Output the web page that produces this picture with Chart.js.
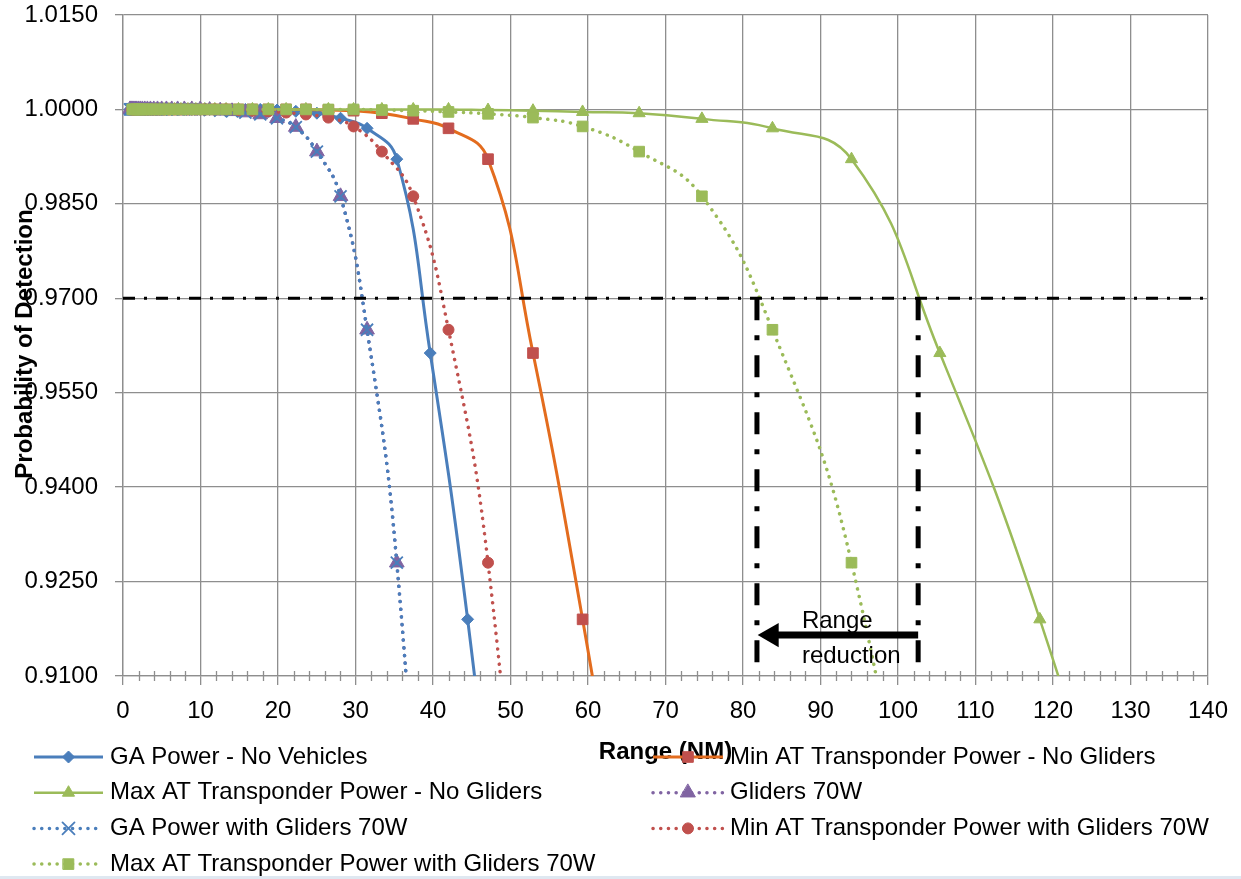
<!DOCTYPE html>
<html>
<head>
<meta charset="utf-8">
<title>Probability of Detection vs Range</title>
<script src="https://cdn.jsdelivr.net/npm/chart.js@4.4.0/dist/chart.umd.min.js"></script>
<style>
    html, body { margin: 0; padding: 0; background: #dfe8f1; }
    #wrap { width: 1241px; height: 876px; background: #fff; }
</style>
</head>
<body>
<div id="wrap"><canvas id="myChart" width="1241" height="876"></canvas></div>
<script>
// range grids in NM (1 dB steps), ascending
var rangeGA = [0.89, 1.00, 1.12, 1.26, 1.41, 1.58, 1.77, 1.99, 2.23, 2.50,
    2.81, 3.15, 3.54, 3.97, 4.45, 4.99, 5.60, 6.29, 7.05, 7.91,
    8.88, 9.96, 11.18, 12.54, 14.07, 15.79, 17.71, 19.87, 22.30, 25.02,
    28.07, 31.49, 35.33, 39.64, 44.47, 49.90];
var rangeAT = [1.19, 1.33, 1.49, 1.68, 1.88, 2.11, 2.36, 2.65, 2.97, 3.33,
    3.74, 4.20, 4.71, 5.29, 5.93, 6.66, 7.47, 8.38, 9.40, 10.55,
    11.85, 13.30, 14.90, 16.70, 18.75, 21.05, 23.60, 26.50, 29.75, 33.40,
    37.45, 42.00, 47.10, 52.90, 59.30, 66.60, 74.70, 83.80, 94.00, 105.40,
    118.30, 132.70];

// probability of detection, one value per range point
var pdGA = [1.0000, 1.0000, 1.0000, 1.0000, 1.0000, 1.0000, 1.0000, 1.0000, 1.0000, 1.0000,
    1.0000, 1.0000, 1.0000, 1.0000, 1.0000, 1.0000, 1.0000, 1.0000, 1.0000, 1.0000,
    1.0000, 1.0000, 1.0000, 1.0000, 1.0000, 1.0000, 1.0000, 0.9999, 0.9997, 0.9994,
    0.9986, 0.9970, 0.9921, 0.9613, 0.9190, 0.8600];
var pdMinAT = [1.0000, 1.0000, 1.0000, 1.0000, 1.0000, 1.0000, 1.0000, 1.0000, 1.0000, 1.0000,
    1.0000, 1.0000, 1.0000, 1.0000, 1.0000, 1.0000, 1.0000, 1.0000, 1.0000, 1.0000,
    1.0000, 1.0000, 1.0000, 1.0000, 1.0000, 1.0000, 1.0000, 0.9999, 0.9998, 0.9994,
    0.9985, 0.9970, 0.9921, 0.9613, 0.9190, 0.8650];
var pdMaxAT = [1.0000, 1.0000, 1.0000, 1.0000, 1.0000, 1.0000, 1.0000, 1.0000, 1.0000, 1.0000,
    1.0000, 1.0000, 1.0000, 1.0000, 1.0000, 1.0000, 1.0000, 1.0000, 1.0000, 1.0000,
    1.0000, 1.0000, 1.0000, 1.0000, 1.0000, 1.0000, 1.0000, 1.0000, 1.0000, 1.0000,
    1.0000, 1.0000, 0.9999, 0.9998, 0.9996, 0.9994, 0.9985, 0.9970, 0.9921, 0.9613,
    0.9190, 0.8600];
var pdGliders = [1.0000, 1.0000, 1.0000, 1.0000, 1.0000, 1.0000, 1.0000, 1.0000, 1.0000, 1.0000,
    1.0000, 1.0000, 1.0000, 1.0000, 1.0000, 1.0000, 1.0000, 1.0000, 1.0000, 1.0000,
    1.0000, 1.0000, 0.9999, 0.9998, 0.9997, 0.9995, 0.9992, 0.9986, 0.9972, 0.9933,
    0.9862, 0.9650, 0.9280, 0.8500];
var pdMinATGl = [1.0000, 1.0000, 1.0000, 1.0000, 1.0000, 1.0000, 1.0000, 1.0000, 1.0000, 1.0000,
    1.0000, 1.0000, 1.0000, 1.0000, 1.0000, 1.0000, 1.0000, 1.0000, 1.0000, 1.0000,
    1.0000, 1.0000, 0.9999, 0.9998, 0.9997, 0.9995, 0.9992, 0.9987, 0.9973, 0.9933,
    0.9862, 0.9650, 0.9280, 0.8500];
var pdMaxATGl = [1.0000, 1.0000, 1.0000, 1.0000, 1.0000, 1.0000, 1.0000, 1.0000, 1.0000, 1.0000,
    1.0000, 1.0000, 1.0000, 1.0000, 1.0000, 1.0000, 1.0000, 1.0000, 1.0000, 1.0000,
    1.0000, 1.0000, 1.0000, 1.0000, 1.0000, 1.0000, 1.0000, 1.0000, 1.0000, 0.9999,
    0.9998, 0.9996, 0.9993, 0.9987, 0.9973, 0.9933, 0.9862, 0.9650, 0.9280, 0.8500];

var seriesNames = ['GA Power - No Vehicles', 'Min AT Transponder Power - No Gliders',
    'Max AT Transponder Power - No Gliders', 'Gliders 70W', 'GA Power with Gliders 70W',
    'Min AT Transponder Power with Gliders 70W', 'Max AT Transponder Power with Gliders 70W'];

var xTickValues = [0, 10, 20, 30, 40, 50, 60, 70, 80, 90, 100, 110, 120, 130, 140];
var yTickValues = [0.9100, 0.9250, 0.9400, 0.9550, 0.9700, 0.9850, 1.0000, 1.0150];

// annotation: Pd threshold and the ranges where the Max AT curves cross it
var thresholdPd = 0.97;
var crossRanges = [81.8, 102.6];
var arrowPd = 0.9165;
var arrowRange = [102.6, 83.7];
var noteLines = ['Range', 'reduction'];
var noteRange = 87.6;
var notePd = 0.9186;

var BLUE = '#4A7EBB', ORANGE = '#E36C1E', RED = '#C0504D', GREEN = '#9BBB59', PURPLE = '#8064A2';
var GRID = '#8E8E8E';
var FONT = '"Liberation Sans", Arial, sans-serif';

function pairs(xs, ys) {
    return ys.map(function (y, i) { return { x: xs[i], y: y }; });
}

function series(name, xs, ys, color, markColor, style, radius, dotted, width) {
    return {
        label: name,
        data: pairs(xs, ys),
        borderColor: color,
        borderWidth: width,
        borderDash: dotted ? [0.1, 7.6] : [],
        borderCapStyle: dotted ? 'round' : 'butt',
        tension: 0.45,
        pointStyle: style,
        pointRadius: radius,
        pointBackgroundColor: markColor,
        pointBorderColor: markColor,
        pointBorderWidth: style === 'crossRot' ? 1.8 : 1,
        fill: false
    };
}

var datasets = [
    series(seriesNames[0], rangeGA, pdGA, BLUE, BLUE, 'rectRot', 6, false, 3),
    series(seriesNames[1], rangeAT, pdMinAT, ORANGE, RED, 'rect', 7.5, false, 3),
    series(seriesNames[2], rangeAT, pdMaxAT, GREEN, GREEN, 'triangle', 7, false, 2.5),
    series(seriesNames[3], rangeGA, pdGliders, PURPLE, PURPLE, 'triangle', 8.5, true, 3.5),
    series(seriesNames[4], rangeGA, pdGliders, BLUE, BLUE, 'crossRot', 8.5, true, 3.5),
    series(seriesNames[5], rangeAT, pdMinATGl, RED, RED, 'circle', 5.5, true, 3.5),
    series(seriesNames[6], rangeAT, pdMaxATGl, GREEN, GREEN, 'rect', 7.5, true, 3.5)
];
// later series on top, like the original
datasets.forEach(function (ds, i) { ds.order = 20 - i; });

// threshold line and range reduction marks
datasets.push({
    label: 'threshold',
    data: [{ x: xTickValues[0], y: thresholdPd }, { x: xTickValues[xTickValues.length - 1], y: thresholdPd }],
    borderColor: '#000', borderWidth: 3, borderDash: [12, 9, 3, 9], pointRadius: 0, order: 2
});
crossRanges.forEach(function (r) {
    datasets.push({
        label: 'cross',
        data: [{ x: r, y: thresholdPd }, { x: r, y: yTickValues[0] }],
        borderColor: '#000', borderWidth: 5, borderDash: [22, 15, 5, 15], pointRadius: 0, order: 1
    });
});
datasets.push({
    label: 'arrow',
    data: [{ x: arrowRange[0], y: arrowPd }, { x: arrowRange[1], y: arrowPd }],
    borderColor: '#000', borderWidth: 7, backgroundColor: '#000',
    pointStyle: 'triangle', pointRotation: 270, pointRadius: [0, 14],
    pointBackgroundColor: '#000', pointBorderColor: '#000', pointBorderWidth: 0, order: 0
});

var chartExtras = {
    id: 'chartExtras',
    beforeDatasetsDraw: function (chart) {
        let ctx = chart.ctx;
        let area = chart.chartArea;
        let xs = chart.scales.x;
        ctx.save();
        ctx.strokeStyle = GRID;
        ctx.lineWidth = 1.3;
        for (let v = xs.min; v <= xs.max; v += 2) {
            if (xTickValues.indexOf(v) >= 0) continue;
            let px = Math.round(xs.getPixelForValue(v)) + 0.5;
            ctx.beginPath();
            ctx.moveTo(px, area.bottom - 5);
            ctx.lineTo(px, area.bottom + 5);
            ctx.stroke();
        }
        ctx.restore();
    },
    afterDraw: function (chart) {
        let ctx = chart.ctx;
        let xs = chart.scales.x;
        let ys = chart.scales.y;
        ctx.save();
        ctx.fillStyle = '#000';

        // note inside the plot
        ctx.font = '24px ' + FONT;
        ctx.textAlign = 'left';
        ctx.textBaseline = 'middle';
        noteLines.forEach(function (t, i) {
            ctx.fillText(t, xs.getPixelForValue(noteRange), ys.getPixelForValue(notePd) + i * 35);
        });

        // axis titles
        ctx.font = 'bold 24px ' + FONT;
        ctx.textAlign = 'center';
        ctx.fillText('Range (NM)', (chart.chartArea.left + chart.chartArea.right) / 2, 752);
        ctx.save();
        ctx.translate(25, 344);
        ctx.rotate(-Math.PI / 2);
        ctx.fillText('Probability of Detection', 0, 0);
        ctx.restore();

        // legend, two columns
        let colLine = [[34, 103], [653, 723]];
        let colText = [110, 730];
        ctx.font = '24px ' + FONT;
        ctx.textAlign = 'left';
        for (let i = 0; i < seriesNames.length; i++) {
            let ds = chart.data.datasets[i];
            let col = i % 2, row = Math.floor(i / 2);
            let y = 757 + row * 35.7;
            ctx.save();
            ctx.strokeStyle = ds.borderColor;
            ctx.lineWidth = ds.borderWidth;
            ctx.lineCap = ds.borderCapStyle;
            ctx.setLineDash(ds.borderDash);
            ctx.beginPath();
            ctx.moveTo(colLine[col][0], y);
            ctx.lineTo(colLine[col][1], y);
            ctx.stroke();
            ctx.setLineDash([]);
            ctx.fillStyle = ds.pointBackgroundColor;
            ctx.strokeStyle = ds.pointBorderColor;
            ctx.lineWidth = ds.pointBorderWidth;
            Chart.helpers.drawPoint(ctx, {
                pointStyle: ds.pointStyle, rotation: 0,
                radius: ds.pointRadius, borderWidth: ds.pointBorderWidth
            }, (colLine[col][0] + colLine[col][1]) / 2, y);
            ctx.restore();
            ctx.fillText(seriesNames[i], colText[col], y);
        }
        ctx.restore();
    }
};

Chart.defaults.font.family = FONT;
Chart.defaults.font.size = 24;
Chart.defaults.color = '#000';

var ctx = document.getElementById('myChart').getContext('2d');
window.myChart = new Chart(ctx, {
    type: 'line',
    data: { datasets: datasets },
    plugins: [chartExtras],
    options: {
        responsive: false,
        animation: false,
        events: [],
        layout: { padding: { left: 0, right: 33, top: 15, bottom: 0 } },
        scales: {
            x: {
                type: 'linear',
                position: 'bottom',
                min: 0,
                max: 140,
                afterBuildTicks: function (scale) {
                    scale.ticks = xTickValues.map(function (v) { return { value: v }; });
                },
                afterFit: function (scale) {
                    scale.height = 200;
                    scale.paddingLeft = 0;
                    scale.paddingRight = 0;
                },
                ticks: { padding: 12, maxRotation: 0 },
                grid: { color: GRID, lineWidth: 1.3, tickLength: 9 },
                border: { color: GRID, width: 1.3 }
            },
            y: {
                type: 'linear',
                position: 'left',
                min: 0.91,
                max: 1.015,
                afterBuildTicks: function (scale) {
                    scale.ticks = yTickValues.map(function (v) { return { value: v }; });
                },
                afterFit: function (scale) {
                    scale.width = 123;
                    scale.paddingTop = 0;
                    scale.paddingBottom = 0;
                },
                ticks: {
                    padding: 17,
                    callback: function (v) { return v.toFixed(4); }
                },
                grid: { color: GRID, lineWidth: 1.3, tickLength: 8 },
                border: { color: GRID, width: 1.3 }
            }
        },
        plugins: {
            legend: { display: false },
            tooltip: { enabled: false }
        }
    }
});
</script>
</body>
</html>
